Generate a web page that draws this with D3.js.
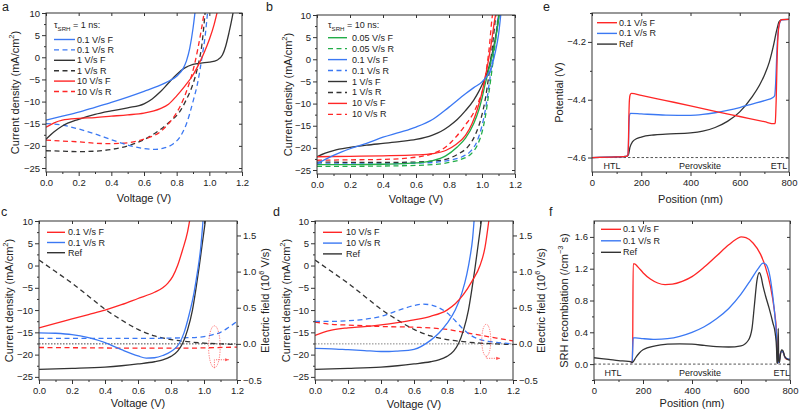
<!DOCTYPE html>
<html><head><meta charset="utf-8">
<script src="https://cdn.jsdelivr.net/npm/d3@7"></script>
<style>
body{margin:0;background:#fff}
svg{display:block}
text{font-family:Arial,"Liberation Sans",sans-serif;fill:#222}
</style>
</head><body>
<svg width="800" height="412"></svg>
<script>
// ---------------- DATA ----------------
// Panel a (tau_SRH = 1 ns) : [voltage V, current density mA/cm2]
const aBlueF = [[0,-14.2],[0.1,-13.3],[0.2,-12.4],[0.3,-11.3],[0.4,-10.2],[0.5,-9],[0.6,-7.7],[0.7,-6.3],[0.75,-5.4],[0.8,-4.3],[0.84,-2.5],[0.86,-0.8],[0.88,2],[0.9,6.5],[0.915,11]];
const aBlueR = [[0,-15],[0.1,-15.3],[0.2,-16.2],[0.3,-17.3],[0.4,-18.6],[0.5,-19.8],[0.6,-20.6],[0.67,-20.8],[0.72,-20.5],[0.78,-19.5],[0.82,-18],[0.86,-15],[0.9,-10],[0.93,-5.5],[0.955,0],[0.975,5],[0.99,10.5]];
const aBlackF = [[0,-18.5],[0.05,-16.8],[0.1,-15.5],[0.2,-14],[0.3,-12.9],[0.4,-12.1],[0.5,-11.4],[0.6,-10.5],[0.65,-9.4],[0.7,-7.8],[0.75,-5.8],[0.8,-3.9],[0.85,-2.4],[0.9,-1.6],[0.95,-1.3],[1.0,-1.1],[1.05,-0.6],[1.08,0.5],[1.1,2.5],[1.12,5.5],[1.14,9],[1.15,11]];
const aBlackR = [[0,-21.1],[0.1,-21.2],[0.2,-21.3],[0.3,-21.2],[0.4,-20.8],[0.5,-20],[0.6,-18.6],[0.7,-16.3],[0.76,-14.5],[0.82,-12.2],[0.86,-9.5],[0.9,-6],[0.93,-2],[0.955,3],[0.975,10.5]];
const aRedF = [[0,-15.8],[0.05,-14.8],[0.1,-14.2],[0.2,-13.8],[0.3,-13.6],[0.4,-13.3],[0.5,-13],[0.6,-12.6],[0.7,-11.6],[0.75,-10.6],[0.8,-8.7],[0.85,-6.5],[0.9,-4],[0.94,-1.2],[0.97,1.2],[1.0,4],[1.03,7.5],[1.05,10.5]];
const aRedR = [[0,-18.7],[0.1,-18.9],[0.2,-19.1],[0.3,-19.4],[0.4,-19.5],[0.5,-19.3],[0.6,-18.5],[0.7,-16.8],[0.75,-15],[0.8,-12.5],[0.84,-9.6],[0.88,-5.5],[0.91,-1.5],[0.93,2],[0.95,6],[0.97,10.5]];

// Panel b (tau_SRH = 10 ns)
const bGreenF = [[0,-23.8],[0.2,-23.8],[0.4,-23.7],[0.6,-23.4],[0.7,-22.9],[0.78,-21.8],[0.85,-19.8],[0.9,-17.8],[0.95,-14.5],[0.98,-11.5],[1.0,-8.8],[1.02,-5.5],[1.04,-2.5],[1.06,0.5],[1.08,4],[1.1,9],[1.105,10.5]];
const bGreenR = [[0,-24.2],[0.4,-24.1],[0.7,-23.8],[0.8,-23.3],[0.88,-22.5],[0.93,-21.5],[0.97,-19.5],[1.0,-16.5],[1.02,-13],[1.04,-8],[1.06,-2.5],[1.08,3.5],[1.1,10.5]];
const bBlueF = [[0,-23.6],[0.05,-22.6],[0.1,-21.7],[0.15,-20.9],[0.2,-20.2],[0.25,-19.6],[0.3,-19],[0.4,-17.6],[0.5,-16.5],[0.6,-15.3],[0.7,-13.6],[0.8,-10.8],[0.9,-7.8],[0.95,-6.4],[1.0,-5.1],[1.03,-3.8],[1.06,-1.5],[1.08,1.5],[1.1,5.5],[1.115,10.5]];
const bBlueR = [[0,-23.6],[0.4,-23.6],[0.7,-23.3],[0.8,-22.8],[0.88,-22],[0.93,-20.8],[0.97,-18.5],[1.0,-15],[1.02,-11.5],[1.04,-6.5],[1.06,-1],[1.08,4.5],[1.1,10.5]];
const bBlackF = [[0,-22],[0.05,-21.2],[0.1,-20.6],[0.2,-19.9],[0.3,-19.4],[0.4,-19],[0.5,-18.6],[0.6,-18.1],[0.7,-17.1],[0.75,-16.3],[0.8,-15.1],[0.85,-13.6],[0.9,-11.6],[0.95,-9.2],[0.98,-7.3],[1.0,-5.8],[1.02,-4.2],[1.04,-2],[1.06,1],[1.08,4.5],[1.1,9],[1.105,10.5]];
const bBlackR = [[0,-23.2],[0.4,-23.3],[0.6,-23.2],[0.75,-22.8],[0.85,-21.5],[0.92,-19.5],[0.96,-17],[1.0,-12.5],[1.02,-9],[1.04,-4],[1.06,2],[1.075,7],[1.085,10.5]];
const bRedF = [[0,-22],[0.2,-21.9],[0.4,-21.8],[0.6,-21.6],[0.7,-21.3],[0.78,-20.6],[0.84,-19.3],[0.9,-17.2],[0.94,-14.5],[0.97,-11.5],[1.0,-7.5],[1.02,-4],[1.04,0],[1.06,4.5],[1.075,8.5],[1.085,10.5]];
const bRedR = [[0,-22.8],[0.2,-22.7],[0.4,-22.6],[0.6,-22.1],[0.7,-21.3],[0.78,-19.8],[0.85,-17.2],[0.9,-14.8],[0.95,-12],[0.98,-9.5],[1.01,-6],[1.03,-1.5],[1.045,3],[1.06,9],[1.065,10.5]];

// Panels c/d : J-V (left axis) and electric field (right axis, 1e6 V/s)
const refJ = [[0,-23.3],[0.2,-23.1],[0.4,-22.8],[0.5,-22.5],[0.6,-22.1],[0.7,-21.6],[0.75,-21.2],[0.8,-20.4],[0.84,-19.2],[0.87,-17.5],[0.9,-14.5],[0.93,-10],[0.95,-5.5],[0.97,-0.5],[0.99,5],[1.01,10.5]];
const refE = [[0,1.16],[0.1,1.0],[0.2,0.84],[0.3,0.66],[0.4,0.48],[0.5,0.33],[0.6,0.2],[0.7,0.11],[0.8,0.06],[0.9,0.03],[1.0,0.01],[1.1,0.0],[1.2,-0.01]];
const cRedJ = [[0,-14],[0.1,-13],[0.2,-12],[0.3,-11],[0.4,-10],[0.5,-8.8],[0.6,-7.4],[0.7,-6],[0.75,-5],[0.78,-4],[0.81,-2.5],[0.84,0],[0.87,3.5],[0.9,7.5],[0.915,10.5]];
const cBlueJ = [[0,-15.1],[0.1,-15.2],[0.2,-15.5],[0.3,-16.2],[0.4,-17.3],[0.5,-18.9],[0.6,-20.3],[0.65,-20.8],[0.7,-20.7],[0.75,-20.2],[0.8,-19.3],[0.85,-17.5],[0.88,-15],[0.91,-11],[0.94,-6],[0.96,-1.5],[0.98,4],[0.995,10.5]];
const cRedE = [[0,-0.05],[0.3,-0.055],[0.6,-0.06],[0.9,-0.06],[1.0,-0.055],[1.2,-0.045]];
const cBlueE = [[0,0.075],[0.2,0.075],[0.4,0.075],[0.6,0.075],[0.8,0.08],[0.9,0.085],[1.0,0.1],[1.05,0.125],[1.1,0.16],[1.15,0.23],[1.2,0.31]];
const dRedJ = [[0,-15.7],[0.05,-15],[0.1,-14.5],[0.2,-14],[0.3,-13.7],[0.4,-13.3],[0.5,-12.8],[0.6,-12.2],[0.7,-11.4],[0.8,-10],[0.85,-8.6],[0.9,-6.5],[0.95,-3.6],[1.0,0],[1.03,4],[1.055,10.5]];
const dBlueJ = [[0,-18.6],[0.1,-18.7],[0.2,-18.9],[0.3,-19.1],[0.4,-19.3],[0.45,-19.3],[0.5,-19.2],[0.6,-18.8],[0.7,-16.8],[0.75,-15.2],[0.8,-13],[0.85,-10],[0.89,-6.2],[0.92,-2],[0.94,2],[0.955,6],[0.965,10.5]];
const dRedE = [[0,0.3],[0.1,0.27],[0.2,0.26],[0.4,0.24],[0.6,0.23],[0.8,0.2],[0.9,0.16],[1.0,0.12],[1.1,0.08],[1.2,0.04]];
const dBlueE = [[0,0.31],[0.1,0.31],[0.2,0.32],[0.3,0.34],[0.4,0.38],[0.5,0.46],[0.6,0.53],[0.65,0.55],[0.7,0.54],[0.75,0.5],[0.8,0.43],[0.85,0.32],[0.9,0.2],[0.95,0.11],[1.0,0.06],[1.05,0.035],[1.1,0.02],[1.2,0.0]];

// Panel e : potential (V) vs position (nm)
const ePotF = [[0,-4.6],[100,-4.598],[140,-4.596],[146,-4.59],[148,-4.55],[150,-4.45],[152,-4.4],[155,-4.383],[160,-4.378],[200,-4.385],[300,-4.403],[400,-4.421],[500,-4.44],[600,-4.458],[700,-4.476],[740,-4.483],[744,-4.48],[748,-4.4],[752,-4.25],[757,-4.16],[763,-4.13],[770,-4.123],[800,-4.122]];
const ePotR = [[0,-4.6],[100,-4.598],[140,-4.596],[146,-4.59],[148,-4.56],[150,-4.49],[152,-4.455],[156,-4.447],[200,-4.449],[300,-4.453],[400,-4.454],[450,-4.451],[500,-4.445],[550,-4.437],[600,-4.427],[650,-4.415],[700,-4.403],[735,-4.392],[742,-4.385],[746,-4.34],[750,-4.25],[755,-4.17],[762,-4.135],[770,-4.124],[800,-4.122]];
const ePotRef = [[0,-4.6],[100,-4.598],[140,-4.596],[148,-4.59],[154,-4.565],[165,-4.545],[180,-4.535],[200,-4.529],[250,-4.522],[300,-4.519],[400,-4.515],[450,-4.509],[500,-4.496],[550,-4.475],[600,-4.442],[650,-4.39],[680,-4.35],[700,-4.315],[720,-4.27],[735,-4.22],[750,-4.16],[760,-4.13],[770,-4.123],[800,-4.122]];

// Panel f : SRH recombination vs position (nm)
const fSrhF = [[150,0.02],[156,0.02],[158,0.3],[160,1.26],[165,1.26],[180,1.22],[200,1.15],[230,1.07],[260,1.02],[290,1.0],[320,1.005],[360,1.04],[400,1.1],[450,1.22],[500,1.36],[550,1.5],[580,1.57],[600,1.6],[620,1.59],[650,1.52],[680,1.38],[700,1.22],[720,0.98],[735,0.7],[745,0.4],[748,0.2],[750,0.02],[755,0.02],[760,0.12],[765,0.16],[772,0.15],[780,0.08],[790,0.06],[800,0.06]];
const fSrhR = [[150,0.02],[156,0.02],[158,0.2],[160,0.33],[170,0.33],[200,0.32],[250,0.31],[300,0.32],[350,0.35],[400,0.4],[450,0.47],[500,0.57],[550,0.7],[600,0.88],[640,1.06],[670,1.2],[690,1.27],[700,1.26],[715,1.15],[730,0.85],[740,0.55],[745,0.35],[748,0.1],[750,0.02],[755,0.02],[760,0.12],[765,0.16],[772,0.15],[780,0.08],[800,0.06]];
const fSrhRef = [[0,0.08],[30,0.07],[60,0.06],[100,0.045],[140,0.035],[150,0.03],[155,0.02],[160,0.03],[170,0.08],[185,0.14],[200,0.18],[250,0.23],[300,0.25],[350,0.255],[400,0.25],[450,0.235],[500,0.22],[550,0.215],[600,0.23],[630,0.3],[645,0.45],[655,0.75],[665,1.05],[675,1.15],[682,1.1],[690,0.98],[700,0.86],[715,0.7],[730,0.52],[740,0.38],[745,0.2],[747,0.02],[750,0.01],[752,0.45],[754,0.05],[757,0.02],[761,0.12],[766,0.18],[771,0.17],[778,0.1],[790,0.06],[800,0.05]];

// Ticks and labels
const jTicks = [10,5,0,-5,-10,-15,-20,-25];
const jMinor = [7.5,2.5,-2.5,-7.5,-12.5,-17.5,-22.5];
const vTicks = [0,0.2,0.4,0.6,0.8,1.0,1.2];
const vMinor = [0.1,0.3,0.5,0.7,0.9,1.1];
const eTicks = [-0.5,0,0.5,1.0,1.5];
const eMinor = [-0.25,0.25,0.75,1.25];
const posTicks = [0,200,400,600,800];
const posMinor = [100,300,500,700];
const potTicks = [-4.6,-4.4,-4.2];
const potMinor = [-4.5,-4.3,-4.1];
const srhTicks = [0,0.4,0.8,1.2,1.6];
const srhMinor = [-0.2,0.2,0.6,1.0,1.4];

const legendA = ["0.1 V/s F","0.1 V/s R","1 V/s F","1 V/s R","10 V/s F","10 V/s R"];
const legendB = ["0.05 V/s F","0.05 V/s R","0.1 V/s F","0.1 V/s R","1 V/s F","1 V/s R","10 V/s F","10 V/s R"];
const legendC = ["0.1 V/s F","0.1 V/s R","Ref"];
const legendD = ["10 V/s F","10 V/s R","Ref"];
const regionLabels = ["HTL","Perovskite","ETL"];
const regionPosE = [81,439,759];
const regionPosF = [78,433,766];

// ---------------- DRAWING ----------------
const RED="#ff2626", BLUE="#3b78f3", BLACK="#333333", GREEN="#22ad48", AX="#333";
const DASH="5,3.5";
const svg = d3.select("svg");
const defs = svg.append("defs");
defs.append("marker").attr("id","arr").attr("viewBox","0 0 10 10").attr("refX",9).attr("refY",5)
  .attr("markerWidth",5).attr("markerHeight",5).attr("orient","auto")
  .append("path").attr("d","M0,1 L10,5 L0,9 z").attr("fill",RED);

let clipN = 0;
function richText(t, segs, fs){
  let cur = 0;
  segs.forEach(s=>{
    const target = s.sup ? -fs*0.4 : (s.sub ? fs*0.3 : 0);
    const ts = t.append("tspan").text(s.t).attr("dy", target-cur);
    if (s.sup || s.sub) ts.attr("font-size", fs*0.68);
    cur = target;
  });
}
function styleAxis(g){
  g.select(".domain").remove();
  g.selectAll(".tick line").attr("stroke",AX).attr("stroke-width",1);
  g.selectAll(".tick text").attr("font-size",9.5).attr("fill","#222").attr("font-family","Arial, 'Liberation Sans', sans-serif");
}
function panel(o){
  const x = d3.scaleLinear().domain(o.xd).range([o.x0,o.x1]);
  const y = d3.scaleLinear().domain(o.yd).range([o.y1,o.y0]);
  const g = svg.append("g");
  const id = "cl"+(clipN++);
  defs.append("clipPath").attr("id",id).append("rect").attr("x",o.x0).attr("y",o.y0).attr("width",o.x1-o.x0).attr("height",o.y1-o.y0);
  const plot = g.append("g").attr("clip-path",`url(#${id})`);
  const ax = g.append("g");
  const add = (tr, axis) => ax.append("g").attr("transform",tr).call(axis).call(styleAxis);
  add(`translate(${o.x0},0)`, d3.axisLeft(y).tickValues(o.yMinor).tickSize(2).tickSizeOuter(0).tickFormat(""));
  add(`translate(${o.x0},0)`, d3.axisLeft(y).tickValues(o.yTicks).tickSize(4).tickSizeOuter(0).tickPadding(2).tickFormat(o.yFmt));
  add(`translate(0,${o.y1})`, d3.axisBottom(x).tickValues(o.xMinor).tickSize(2).tickSizeOuter(0).tickFormat(""));
  add(`translate(0,${o.y1})`, d3.axisBottom(x).tickValues(o.xTicks).tickSize(4).tickSizeOuter(0).tickPadding(3).tickFormat(o.xFmt));
  add(`translate(0,${o.y0})`, d3.axisTop(x).tickValues(o.xTicks).tickSize(-3).tickSizeOuter(0).tickFormat(""));
  let y2 = null;
  if (o.y2d){
    y2 = d3.scaleLinear().domain(o.y2d).range([o.y1,o.y0]);
    add(`translate(${o.x1},0)`, d3.axisRight(y2).tickValues(eMinor).tickSize(2).tickSizeOuter(0).tickFormat(""));
    add(`translate(${o.x1},0)`, d3.axisRight(y2).tickValues(eTicks).tickSize(4).tickSizeOuter(0).tickPadding(2).tickFormat(d3.format(".1f")));
  } else {
    add(`translate(${o.x1},0)`, d3.axisRight(y).tickValues(o.yTicks).tickSize(-3).tickSizeOuter(0).tickFormat(""));
  }
  ax.append("rect").attr("x",o.x0).attr("y",o.y0).attr("width",o.x1-o.x0).attr("height",o.y1-o.y0)
    .attr("fill","none").attr("stroke",AX).attr("stroke-width",1);
  return {x,y,y2,g,plot,o};
}
function line(P, data, color, dashed, useY2, w){
  const ys = useY2 ? P.y2 : P.y;
  P.plot.append("path").datum(data).attr("fill","none").attr("stroke",color)
    .attr("stroke-width", w||1.3).attr("stroke-dasharray", dashed? DASH : null)
    .attr("stroke-linejoin","round")
    .attr("d", d3.line().x(d=>P.x(d[0])).y(d=>ys(d[1])).curve(d3.curveMonotoneX));
}
function hline(P, val, useY2, dash, color){
  const ys = useY2 ? P.y2 : P.y;
  P.plot.append("line").attr("x1",P.o.x0).attr("x2",P.o.x1).attr("y1",ys(val)).attr("y2",ys(val))
    .attr("stroke",color||"#444").attr("stroke-width",0.9).attr("stroke-dasharray",dash);
}
function legend(P, x0, x1, tx, y0, dy, labels, colors, dashes, fs){
  labels.forEach((lab,i)=>{
    const yy = y0 + i*dy;
    P.g.append("line").attr("x1",x0).attr("x2",x1).attr("y1",yy).attr("y2",yy)
      .attr("stroke",colors[i]).attr("stroke-width",1.4).attr("stroke-dasharray",dashes[i]?DASH:null);
    P.g.append("text").attr("x",tx).attr("y",yy).attr("dominant-baseline","central")
      .attr("font-size",fs).text(lab);
  });
}
function yTitle(P, cx, segs, fs){
  const cy = (P.o.y0+P.o.y1)/2;
  const t = P.g.append("text").attr("transform",`translate(${cx},${cy}) rotate(-90)`)
    .attr("text-anchor","middle").attr("dominant-baseline","central").attr("font-size",fs);
  richText(t, segs, fs);
}
function xTitle(P, cy, txt, fs){
  P.g.append("text").attr("x",(P.o.x0+P.o.x1)/2).attr("y",cy).attr("text-anchor","middle")
    .attr("dominant-baseline","central").attr("font-size",fs).text(txt);
}
function letter(x,y,t){
  svg.append("text").attr("x",x).attr("y",y).attr("font-size",12.5).attr("dominant-baseline","central").text(t);
}
const intFmt = d3.format("d"), v1 = d3.format(".1f");
const jTitle = [{t:"Current density (mA/cm"},{t:"2",sup:true},{t:")"}];
const TF = 11, LF = 9;

// ---- Panel a
const A = panel({x0:46,x1:242,y0:13,y1:172,xd:[0,1.2],yd:[-25.9,10],xTicks:vTicks,xMinor:vMinor,yTicks:jTicks,yMinor:jMinor,xFmt:v1,yFmt:intFmt});
line(A,aBlackR,BLACK,true); line(A,aRedR,RED,true); line(A,aBlueR,BLUE,true);
line(A,aBlackF,BLACK,false); line(A,aRedF,RED,false); line(A,aBlueF,BLUE,false);
{
  const t = A.g.append("text").attr("x",54).attr("y",25).attr("dominant-baseline","central").attr("font-size",LF);
  richText(t,[{t:"τ"},{t:"SRH",sub:true},{t:" = 1 ns:"}],LF);
}
legend(A,54,75,77,39.5,10.4,legendA,[BLUE,BLUE,BLACK,BLACK,RED,RED],[0,1,0,1,0,1],LF);
yTitle(A,15,jTitle,TF); xTitle(A,198,"Voltage (V)",TF); letter(2,7,"a");

// ---- Panel b
const B = panel({x0:317,x1:515,y0:15,y1:174,xd:[0,1.2],yd:[-25.9,10],xTicks:vTicks,xMinor:vMinor,yTicks:jTicks,yMinor:jMinor,xFmt:v1,yFmt:intFmt});
line(B,bBlackR,BLACK,true); line(B,bRedR,RED,true); line(B,bBlueR,BLUE,true); line(B,bGreenR,GREEN,true);
line(B,bBlackF,BLACK,false); line(B,bGreenF,GREEN,false); line(B,bRedF,RED,false); line(B,bBlueF,BLUE,false);
{
  const t = B.g.append("text").attr("x",328).attr("y",25).attr("dominant-baseline","central").attr("font-size",LF);
  richText(t,[{t:"τ"},{t:"SRH",sub:true},{t:" = 10 ns:"}],LF);
}
legend(B,328,347,352,37.7,10.95,legendB,[GREEN,GREEN,BLUE,BLUE,BLACK,BLACK,RED,RED],[0,1,0,1,0,1,0,1],LF);
yTitle(B,288,jTitle,TF); xTitle(B,199,"Voltage (V)",TF); letter(266,7,"b");

// ---- Panel c
const eTitle = [{t:"Electric field (10"},{t:"6",sup:true},{t:" V/s)"}];
const C = panel({x0:39,x1:237,y0:221,y1:380,xd:[0,1.2],yd:[-25.7,10],y2d:[-0.5,1.7],xTicks:vTicks,xMinor:vMinor,yTicks:jTicks,yMinor:jMinor,xFmt:v1,yFmt:intFmt});
hline(C,0,true,"1.5,1.5","#333");
line(C,refE,BLACK,true,true); line(C,cRedE,RED,true,true); line(C,cBlueE,BLUE,true,true);
line(C,refJ,BLACK,false); line(C,cBlueJ,BLUE,false); line(C,cRedJ,RED,false);
legend(C,47,65,68,232.3,10.2,legendC,[RED,BLUE,BLACK],[0,0,0],LF);
yTitle(C,9,jTitle,TF); yTitle(C,265,eTitle,TF); xTitle(C,403,"Voltage (V)",TF); letter(1,212,"c");
function annot(P, vx, ec, ry, rx, ay, vEnd){
  const cx = P.x(vx), cy = P.y2(ec);
  P.g.append("ellipse").attr("cx",cx).attr("cy",cy).attr("rx",rx).attr("ry",ry)
    .attr("fill","none").attr("stroke",RED).attr("stroke-width",0.8).attr("stroke-dasharray","1.2,1.2").attr("opacity",0.8);
  P.g.append("path").attr("d",`M${cx},${cy+ry} L${cx},${P.y2(ay)} L${P.x(vEnd)},${P.y2(ay)}`)
    .attr("fill","none").attr("stroke",RED).attr("stroke-width",0.8).attr("stroke-dasharray","1.2,1.2")
    .attr("marker-end","url(#arr)").attr("opacity",0.8);
}
annot(C,1.063,-0.04,21,5.8,-0.22,1.15);

// ---- Panel d
const D = panel({x0:315,x1:513,y0:221,y1:380,xd:[0,1.2],yd:[-25.7,10],y2d:[-0.5,1.7],xTicks:vTicks,xMinor:vMinor,yTicks:jTicks,yMinor:jMinor,xFmt:v1,yFmt:intFmt});
hline(D,0,true,"1.5,1.5","#777");
line(D,refE,BLACK,true,true); line(D,dRedE,RED,true,true); line(D,dBlueE,BLUE,true,true);
line(D,refJ,BLACK,false); line(D,dBlueJ,BLUE,false); line(D,dRedJ,RED,false);
legend(D,323,342,346,232.3,10.8,legendD,[RED,BLUE,BLACK],[0,0,0],LF);
yTitle(D,286,jTitle,TF); yTitle(D,541,eTitle,TF); xTitle(D,404,"Voltage (V)",TF); letter(273,212,"d");
annot(D,1.038,0.05,16,4.5,-0.2,1.12);

// ---- Panel e
const E = panel({x0:592,x1:789,y0:13,y1:172,xd:[0,800],yd:[-4.65,-4.1],xTicks:posTicks,xMinor:posMinor,yTicks:potTicks,yMinor:potMinor,xFmt:intFmt,yFmt:v1});
hline(E,-4.6,false,"2.5,2","#444");
line(E,ePotRef,BLACK,false); line(E,ePotR,BLUE,false); line(E,ePotF,RED,false);
legend(E,597,617,619,22.7,10.7,legendC,[RED,BLUE,BLACK],[0,0,0],LF);
regionLabels.forEach((l,i)=>E.g.append("text").attr("x",E.x(regionPosE[i])).attr("y",165.5).attr("text-anchor","middle").attr("dominant-baseline","central").attr("font-size",LF).text(l));
yTitle(E,559,[{t:"Potential (V)"}],TF); xTitle(E,199,"Position (nm)",TF); letter(543,7,"e");

// ---- Panel f
const F = panel({x0:594,x1:790,y0:221,y1:380,xd:[0,800],yd:[-0.2,1.8],xTicks:posTicks,xMinor:posMinor,yTicks:srhTicks,yMinor:srhMinor,xFmt:intFmt,yFmt:v1});
hline(F,0,false,"2.5,2","#444");
line(F,fSrhF,RED,false); line(F,fSrhR,BLUE,false); line(F,fSrhRef,BLACK,false);
legend(F,601,621,623,229.3,11.5,legendC,[RED,BLUE,BLACK],[0,0,0],LF);
regionLabels.forEach((l,i)=>F.g.append("text").attr("x",F.x(regionPosF[i])).attr("y",373).attr("text-anchor","middle").attr("dominant-baseline","central").attr("font-size",LF).text(l));
yTitle(F,564,[{t:"SRH recombiation (/cm"},{t:"−3",sup:true},{t:" s)"}],TF); xTitle(F,403,"Position (nm)",TF); letter(549,212,"f");
</script>
</body></html>
